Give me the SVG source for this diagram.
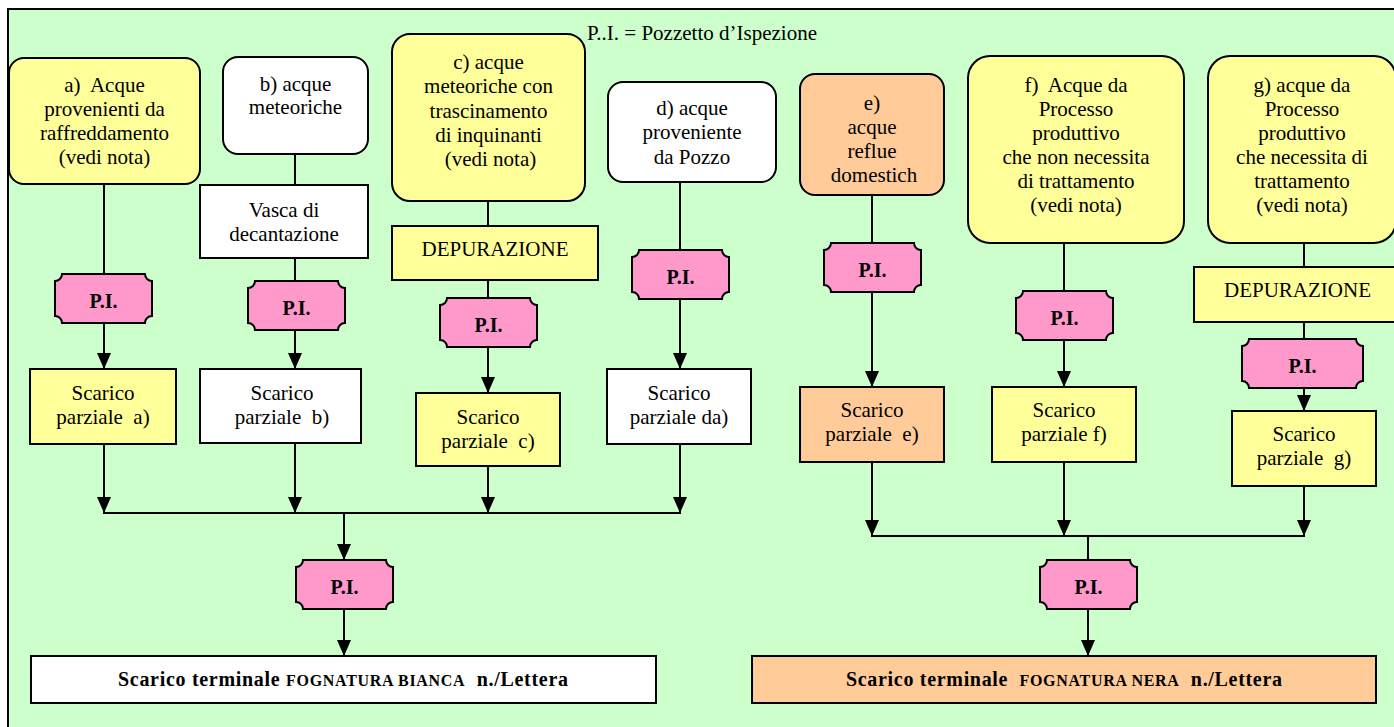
<svg xmlns="http://www.w3.org/2000/svg" width="1394" height="727" viewBox="0 0 1394 727">
<style>
.t { font-family: 'Liberation Serif', serif; font-size: 21px; fill: #000; }
.c { text-anchor: middle; }
.pt { font-family: 'Liberation Serif', serif; font-weight: bold; font-size: 20px; text-anchor: middle; fill: #000; }
.bt { font-family: 'Liberation Serif', serif; font-weight: bold; font-size: 20px; fill: #000; }
.sm { font-size: 16px; }
.box { stroke: #000; stroke-width: 2; }
.y { fill: #FFFF99; }
.w { fill: #FFFFFF; }
.o { fill: #FFCC99; }
.pi { fill: #FF99CC; stroke: #000; stroke-width: 2; }
.ln { fill: none; stroke: #000; stroke-width: 2; }
.ar { fill: none; stroke: #000; stroke-width: 2; marker-end: url(#arr); }
</style>
<defs>
<marker id="arr" viewBox="0 0 16 14" refX="16" refY="7" markerWidth="16" markerHeight="14" markerUnits="userSpaceOnUse" orient="auto"><path d="M0,0 L16,7 L0,14 Z" fill="#000"/></marker>
<path id="pis" d="M7,0 H90 A7,7 0 0 0 97,7 V42 A7,7 0 0 0 90,49 H7 A7,7 0 0 0 0,42 V7 A7,7 0 0 0 7,0 Z"/>
<path id="piw" d="M7,0 H114 A7,7 0 0 0 121,7 V42 A7,7 0 0 0 114,49 H7 A7,7 0 0 0 0,42 V7 A7,7 0 0 0 7,0 Z"/>
<clipPath id="clipE"><rect x="800" y="74" width="144" height="109"/></clipPath>
</defs>
<rect x="8" y="9" width="1400" height="730" fill="#CCFFCC" stroke="#000" stroke-width="2"/>
<text id="title" class="t" font-family="Liberation Serif" font-size="21" x="587" y="40">P..I. = Pozzetto d’Ispezione</text>
<g id="connectors">
<path class="ln" d="M104,184 V274"/>
<path class="ar" d="M104,322 V369"/>
<path class="ar" d="M104,444 V513"/>
<path class="ln" d="M295,154 V185"/>
<path class="ln" d="M295,258 V281"/>
<path class="ar" d="M295,329 V369"/>
<path class="ar" d="M295,443 V513"/>
<path class="ln" d="M488,201 V226"/>
<path class="ln" d="M488,280 V298"/>
<path class="ar" d="M488,347 V393"/>
<path class="ar" d="M488,466 V513"/>
<path class="ln" d="M680,182 V250"/>
<path class="ar" d="M680,298 V369"/>
<path class="ar" d="M680,444 V513"/>
<path class="ln" d="M103,513 H681"/>
<path class="ar" d="M344,513 V560"/>
<path class="ar" d="M344,609 V656"/>
<path class="ln" d="M872,195 V243"/>
<path class="ar" d="M872,292 V387"/>
<path class="ar" d="M872,462 V536"/>
<path class="ln" d="M1064,243 V291"/>
<path class="ar" d="M1064,340 V387"/>
<path class="ar" d="M1064,462 V536"/>
<path class="ln" d="M1304,243 V267"/>
<path class="ln" d="M1304,322 V339"/>
<path class="ar" d="M1304,388 V411"/>
<path class="ar" d="M1304,486 V536"/>
<path class="ln" d="M871,536 H1305"/>
<path class="ln" d="M1088,536 V560"/>
<path class="ar" d="M1088,609 V656"/>
</g>
<g id="node-a">
<rect class="box y" x="9" y="58" width="191" height="126" rx="15"/>
<text class="t c" font-family="Liberation Serif" font-size="21" x="104.5" y="92">a)&#160; Acque</text>
<text class="t c" font-family="Liberation Serif" font-size="21" x="104.5" y="116">provenienti da</text>
<text class="t c" font-family="Liberation Serif" font-size="21" x="104.5" y="140">raffreddamento</text>
<text class="t c" font-family="Liberation Serif" font-size="21" x="104.5" y="164">(vedi nota)</text>
</g>
<g id="node-b">
<rect class="box w" x="223" y="57" width="145" height="97" rx="15"/>
<text class="t c" font-family="Liberation Serif" font-size="21" x="295.5" y="91">b) acque</text>
<text class="t c" font-family="Liberation Serif" font-size="21" x="295.5" y="114">meteoriche</text>
</g>
<g id="node-vasca">
<rect class="box w" x="200" y="185" width="168" height="73"/>
<text class="t c" font-family="Liberation Serif" font-size="21" x="284" y="217">Vasca di</text>
<text class="t c" font-family="Liberation Serif" font-size="21" x="284" y="241">decantazione</text>
</g>
<g id="node-c">
<rect class="box y" x="392" y="34" width="193" height="167" rx="18"/>
<text class="t c" font-family="Liberation Serif" font-size="21" x="488.5" y="69">c) acque</text>
<text class="t c" font-family="Liberation Serif" font-size="21" x="488.5" y="93">meteoriche con</text>
<text class="t c" font-family="Liberation Serif" font-size="21" x="488.5" y="118">trascinamento</text>
<text class="t c" font-family="Liberation Serif" font-size="21" x="488.5" y="142">di inquinanti</text>
<text class="t c" font-family="Liberation Serif" font-size="21" x="490.5" y="166">(vedi nota)</text>
</g>
<g id="node-dep-c">
<rect class="box y" x="392" y="226" width="206" height="54"/>
<text class="t c" font-family="Liberation Serif" font-size="21" x="495" y="256">DEPURAZIONE</text>
</g>
<g id="node-d">
<rect class="box w" x="608" y="82" width="168" height="100" rx="15"/>
<text class="t c" font-family="Liberation Serif" font-size="21" x="692" y="115">d) acque</text>
<text class="t c" font-family="Liberation Serif" font-size="21" x="692" y="139">proveniente</text>
<text class="t c" font-family="Liberation Serif" font-size="21" x="692" y="164">da Pozzo</text>
</g>
<g id="pi-a"><use class="pi" href="#pis" x="55" y="274"/><text class="pt" font-family="Liberation Serif" font-size="20" font-weight="bold" x="103.5" y="308">P.I.</text></g>
<g id="pi-b"><use class="pi" href="#pis" x="248" y="281"/><text class="pt" font-family="Liberation Serif" font-size="20" font-weight="bold" x="296.5" y="315">P.I.</text></g>
<g id="pi-c"><use class="pi" href="#pis" x="440" y="298"/><text class="pt" font-family="Liberation Serif" font-size="20" font-weight="bold" x="488.5" y="332">P.I.</text></g>
<g id="pi-d"><use class="pi" href="#pis" x="632" y="250"/><text class="pt" font-family="Liberation Serif" font-size="20" font-weight="bold" x="680.5" y="284">P.I.</text></g>
<g id="scarico-a">
<rect class="box y" x="30" y="369" width="146" height="75"/>
<text class="t c" font-family="Liberation Serif" font-size="21" x="103" y="400">Scarico</text>
<text class="t c" font-family="Liberation Serif" font-size="21" x="103" y="424">parziale&#160; a)</text>
</g>
<g id="scarico-b">
<rect class="box w" x="200" y="369" width="161" height="74"/>
<text class="t c" font-family="Liberation Serif" font-size="21" x="282" y="400">Scarico</text>
<text class="t c" font-family="Liberation Serif" font-size="21" x="282" y="424">parziale&#160; b)</text>
</g>
<g id="scarico-c">
<rect class="box y" x="416" y="393" width="144" height="73"/>
<text class="t c" font-family="Liberation Serif" font-size="21" x="488" y="424">Scarico</text>
<text class="t c" font-family="Liberation Serif" font-size="21" x="488" y="448">parziale&#160; c)</text>
</g>
<g id="scarico-d">
<rect class="box w" x="607" y="369" width="144" height="75"/>
<text class="t c" font-family="Liberation Serif" font-size="21" x="679" y="400">Scarico</text>
<text class="t c" font-family="Liberation Serif" font-size="21" x="679" y="424">parziale da)</text>
</g>
<g id="pi-bianca"><use class="pi" href="#pis" x="296" y="560"/><text class="pt" font-family="Liberation Serif" font-size="20" font-weight="bold" x="344.5" y="594">P.I.</text></g>
<g id="terminale-bianca">
<rect class="box w" x="31" y="656" width="625" height="47"/>
<text class="bt" font-family="Liberation Serif" font-size="20" font-weight="bold" x="118" y="686" textLength="450" lengthAdjust="spacing">Scarico terminale <tspan class="sm" font-size="16">FOGNATURA BIANCA</tspan>&#160; n./Lettera</text>
</g>
<g id="node-e">
<rect class="box o" x="800" y="74" width="144" height="121" rx="15"/>
<g clip-path="url(#clipE)">
<text class="t c" font-family="Liberation Serif" font-size="21" x="872" y="110">e)</text>
<text class="t c" font-family="Liberation Serif" font-size="21" x="872" y="134">acque</text>
<text class="t c" font-family="Liberation Serif" font-size="21" x="872" y="158">reflue</text>
<text class="t c" font-family="Liberation Serif" font-size="21" x="874" y="182">domestich</text>
</g>
</g>
<g id="node-f">
<rect class="box y" x="968" y="56" width="216" height="187" rx="22"/>
<text class="t c" font-family="Liberation Serif" font-size="21" x="1076" y="92">f)&#160; Acque da</text>
<text class="t c" font-family="Liberation Serif" font-size="21" x="1076" y="116">Processo</text>
<text class="t c" font-family="Liberation Serif" font-size="21" x="1076" y="140">produttivo</text>
<text class="t c" font-family="Liberation Serif" font-size="21" x="1076" y="164">che non necessita</text>
<text class="t c" font-family="Liberation Serif" font-size="21" x="1076" y="188">di trattamento</text>
<text class="t c" font-family="Liberation Serif" font-size="21" x="1076" y="212">(vedi nota)</text>
</g>
<g id="node-g">
<rect class="box y" x="1208" y="56" width="188" height="187" rx="22"/>
<text class="t c" font-family="Liberation Serif" font-size="21" x="1302" y="92">g) acque da</text>
<text class="t c" font-family="Liberation Serif" font-size="21" x="1302" y="116">Processo</text>
<text class="t c" font-family="Liberation Serif" font-size="21" x="1302" y="140">produttivo</text>
<text class="t c" font-family="Liberation Serif" font-size="21" x="1302" y="164">che necessita di</text>
<text class="t c" font-family="Liberation Serif" font-size="21" x="1302" y="188">trattamento</text>
<text class="t c" font-family="Liberation Serif" font-size="21" x="1302" y="212">(vedi nota)</text>
</g>
<g id="node-dep-g">
<rect class="box y" x="1194" y="267" width="207" height="55"/>
<text class="t c" font-family="Liberation Serif" font-size="21" x="1297.5" y="297">DEPURAZIONE</text>
</g>
<g id="pi-e"><use class="pi" href="#pis" x="824" y="243"/><text class="pt" font-family="Liberation Serif" font-size="20" font-weight="bold" x="872.5" y="277">P.I.</text></g>
<g id="pi-f"><use class="pi" href="#pis" x="1016" y="291"/><text class="pt" font-family="Liberation Serif" font-size="20" font-weight="bold" x="1064.5" y="325">P.I.</text></g>
<g id="pi-g"><use class="pi" href="#piw" x="1242" y="339"/><text class="pt" font-family="Liberation Serif" font-size="20" font-weight="bold" x="1302.5" y="373">P.I.</text></g>
<g id="scarico-e">
<rect class="box o" x="800" y="387" width="144" height="75"/>
<text class="t c" font-family="Liberation Serif" font-size="21" x="872" y="417">Scarico</text>
<text class="t c" font-family="Liberation Serif" font-size="21" x="872" y="441">parziale&#160; e)</text>
</g>
<g id="scarico-f">
<rect class="box y" x="992" y="387" width="144" height="75"/>
<text class="t c" font-family="Liberation Serif" font-size="21" x="1064" y="417">Scarico</text>
<text class="t c" font-family="Liberation Serif" font-size="21" x="1064" y="441">parziale f)</text>
</g>
<g id="scarico-g">
<rect class="box y" x="1232" y="411" width="144" height="75"/>
<text class="t c" font-family="Liberation Serif" font-size="21" x="1304" y="441">Scarico</text>
<text class="t c" font-family="Liberation Serif" font-size="21" x="1304" y="465">parziale&#160; g)</text>
</g>
<g id="pi-nera"><use class="pi" href="#pis" x="1040" y="560"/><text class="pt" font-family="Liberation Serif" font-size="20" font-weight="bold" x="1088.5" y="594">P.I.</text></g>
<g id="terminale-nera">
<rect class="box o" x="752" y="656" width="624" height="47"/>
<text class="bt" font-family="Liberation Serif" font-size="20" font-weight="bold" x="846" y="686" textLength="436" lengthAdjust="spacing">Scarico terminale&#160; <tspan class="sm" font-size="16">FOGNATURA NERA</tspan>&#160; n./Lettera</text>
</g>
</svg>
